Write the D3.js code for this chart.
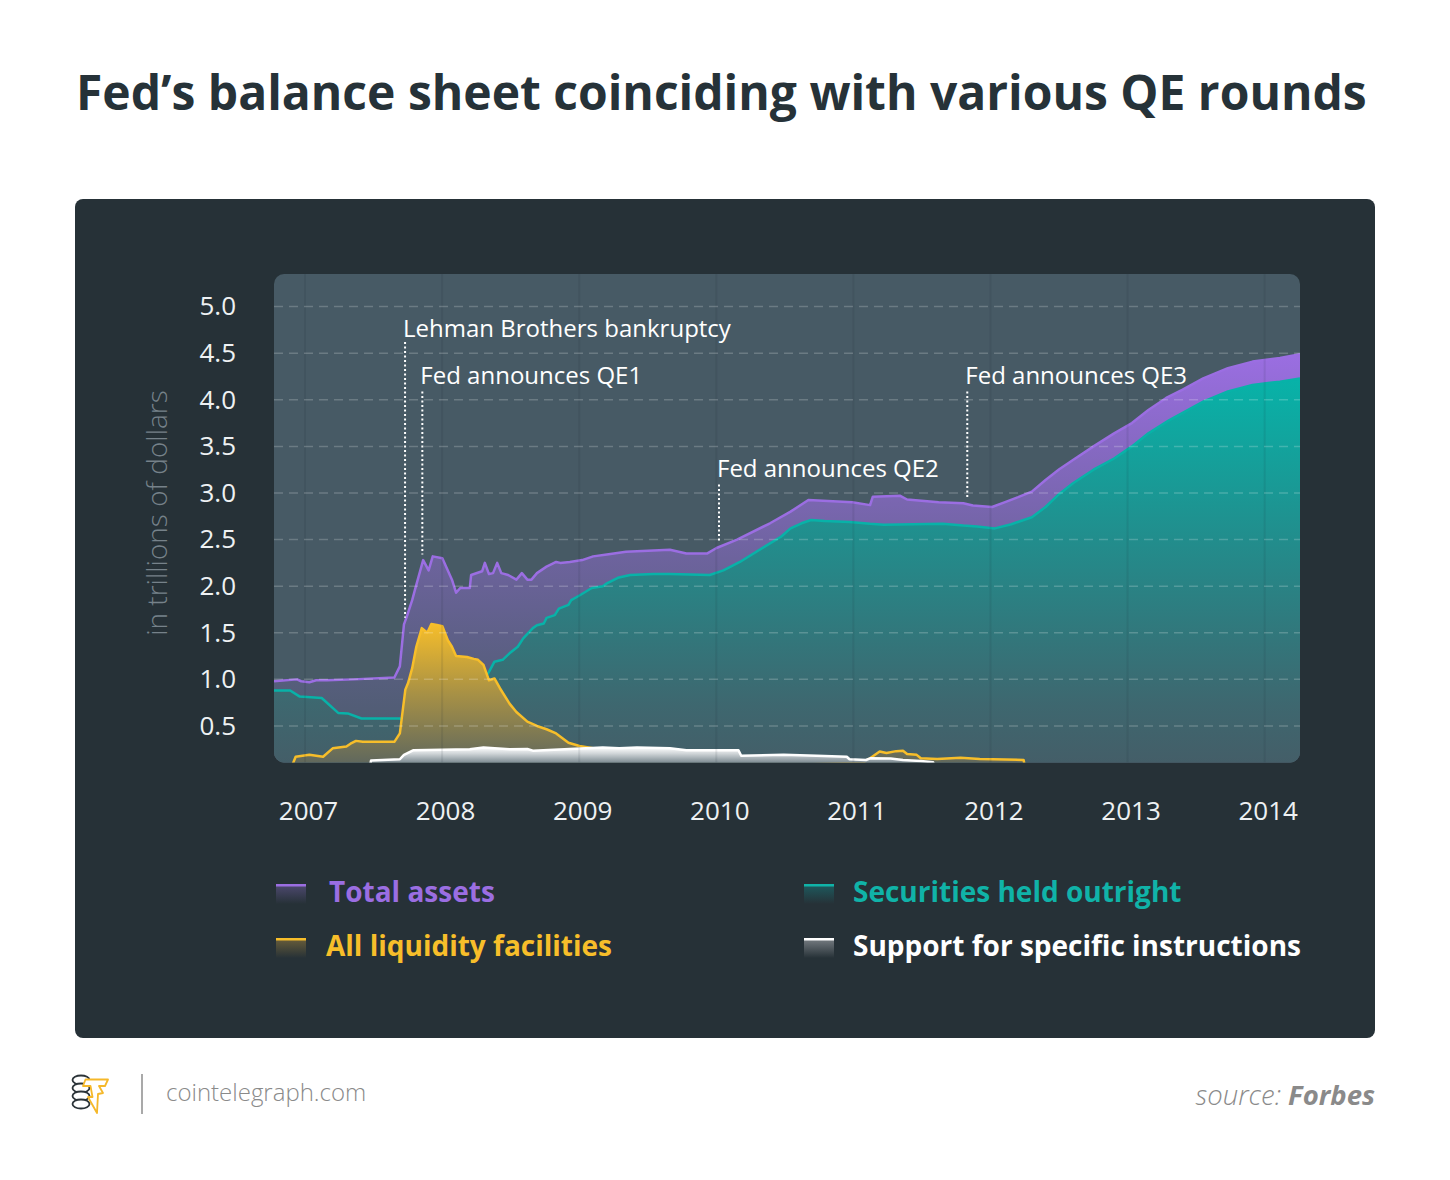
<!DOCTYPE html>
<html>
<head>
<meta charset="utf-8">
<script src="https://cdn.jsdelivr.net/npm/d3@7"></script>
<style>
  body { margin: 0; background: #fff; }
  text { font-family: "Open Sans", "Noto Sans", sans-serif; }
</style>
</head>
<body>
<div id="chart"></div>
<script>
// --- data (trillions of dollars, x in decimal years) ---
const yearTicks = [2007, 2008, 2009, 2010, 2011, 2012, 2013, 2014];
const valueTicks = [0.5, 1.0, 1.5, 2.0, 2.5, 3.0, 3.5, 4.0, 4.5, 5.0];

const totalAssets = [
  [2006.752, 0.98], [2006.92, 1.00], [2006.95, 0.98], [2007.01, 0.97], [2007.06, 0.99],
  [2007.14, 0.99], [2007.33, 1.00], [2007.63, 1.02], [2007.67, 1.14], [2007.70, 1.59],
  [2007.72, 1.67], [2007.76, 1.85], [2007.78, 1.96], [2007.84, 2.28], [2007.88, 2.17],
  [2007.91, 2.32], [2007.98, 2.30], [2008.05, 2.07], [2008.08, 1.93], [2008.11, 1.98],
  [2008.18, 1.98], [2008.19, 2.12], [2008.27, 2.16], [2008.29, 2.25], [2008.32, 2.13],
  [2008.35, 2.14], [2008.38, 2.25], [2008.41, 2.14], [2008.46, 2.12], [2008.52, 2.07],
  [2008.56, 2.14], [2008.60, 2.07], [2008.63, 2.07], [2008.67, 2.14], [2008.74, 2.21],
  [2008.81, 2.26], [2008.84, 2.25], [2008.91, 2.26], [2009.00, 2.28], [2009.08, 2.32],
  [2009.18, 2.34], [2009.32, 2.37], [2009.64, 2.39], [2009.76, 2.35], [2009.91, 2.35],
  [2009.98, 2.41], [2010.13, 2.50], [2010.37, 2.675], [2010.52, 2.80], [2010.65, 2.925],
  [2010.97, 2.90], [2011.10, 2.87], [2011.12, 2.96], [2011.32, 2.97], [2011.37, 2.93],
  [2011.60, 2.90], [2011.78, 2.89], [2011.85, 2.865], [2011.99, 2.85], [2012.08, 2.90],
  [2012.18, 2.955], [2012.28, 3.015], [2012.38, 3.14], [2012.48, 3.255], [2012.58, 3.355],
  [2012.73, 3.50], [2012.88, 3.64], [2013.01, 3.75], [2013.13, 3.89], [2013.26, 4.02],
  [2013.38, 4.11], [2013.53, 4.23], [2013.71, 4.34], [2013.89, 4.41], [2014.09, 4.45],
  [2014.236, 4.49]
];

const securities = [
  [2006.752, 0.88], [2006.87, 0.88], [2006.94, 0.815], [2007.10, 0.80], [2007.22, 0.64],
  [2007.29, 0.635], [2007.39, 0.58], [2007.67, 0.58], [2007.80, 0.50], [2008.10, 0.48],
  [2008.22, 0.70], [2008.28, 1.00], [2008.32, 1.08], [2008.36, 1.19], [2008.42, 1.21],
  [2008.47, 1.28], [2008.53, 1.35], [2008.57, 1.44], [2008.64, 1.55], [2008.67, 1.58],
  [2008.72, 1.60], [2008.74, 1.66], [2008.80, 1.69], [2008.83, 1.76], [2008.90, 1.80],
  [2008.92, 1.85], [2008.98, 1.90], [2009.07, 1.98], [2009.15, 2.00], [2009.18, 2.03],
  [2009.26, 2.09], [2009.35, 2.12], [2009.52, 2.13], [2009.64, 2.13], [2009.93, 2.12],
  [2010.03, 2.17], [2010.15, 2.26], [2010.37, 2.46], [2010.45, 2.53], [2010.52, 2.62],
  [2010.60, 2.675], [2010.67, 2.71], [2010.77, 2.70], [2010.95, 2.69], [2011.10, 2.67],
  [2011.20, 2.66], [2011.63, 2.67], [2011.78, 2.65], [2011.88, 2.64], [2012.01, 2.62],
  [2012.13, 2.665], [2012.28, 2.74], [2012.38, 2.85], [2012.48, 2.99], [2012.58, 3.105],
  [2012.73, 3.25], [2012.88, 3.37], [2013.01, 3.50], [2013.13, 3.64], [2013.28, 3.78],
  [2013.38, 3.86], [2013.53, 3.98], [2013.71, 4.09], [2013.89, 4.16], [2014.09, 4.195],
  [2014.236, 4.23]
];

const liquidity = [
  [2006.88, 0.06], [2006.91, 0.17], [2007.01, 0.19], [2007.11, 0.17], [2007.18, 0.26],
  [2007.28, 0.28], [2007.31, 0.31], [2007.35, 0.34], [2007.40, 0.33], [2007.63, 0.33],
  [2007.67, 0.42], [2007.71, 0.89], [2007.73, 0.96], [2007.76, 1.12], [2007.79, 1.35],
  [2007.83, 1.55], [2007.87, 1.50], [2007.90, 1.595], [2007.94, 1.585], [2007.98, 1.57],
  [2008.02, 1.42], [2008.05, 1.35], [2008.08, 1.25], [2008.16, 1.24], [2008.21, 1.22],
  [2008.24, 1.21], [2008.28, 1.155], [2008.32, 0.99], [2008.36, 1.01], [2008.40, 0.905],
  [2008.47, 0.74], [2008.52, 0.65], [2008.60, 0.546], [2008.67, 0.50], [2008.74, 0.465],
  [2008.81, 0.42], [2008.90, 0.32], [2008.98, 0.285], [2009.08, 0.26], [2009.20, 0.20],
  [2009.60, 0.17], [2010.30, 0.14], [2010.90, 0.12], [2011.06, 0.12], [2011.10, 0.153],
  [2011.17, 0.225], [2011.22, 0.21], [2011.29, 0.23], [2011.34, 0.235], [2011.37, 0.20],
  [2011.44, 0.19], [2011.47, 0.153], [2011.59, 0.146], [2011.76, 0.16], [2011.90, 0.146],
  [2012.22, 0.135], [2012.23, 0.06]
];

const support = [
  [2007.45, 0.06], [2007.46, 0.13], [2007.67, 0.143], [2007.70, 0.19], [2007.77, 0.24],
  [2008.18, 0.25], [2008.28, 0.27], [2008.47, 0.25], [2008.60, 0.253], [2008.64, 0.235],
  [2008.91, 0.253], [2009.15, 0.27], [2009.27, 0.26], [2009.40, 0.27], [2009.64, 0.26],
  [2009.76, 0.24], [2010.14, 0.24], [2010.16, 0.18], [2010.47, 0.19], [2010.71, 0.18],
  [2010.93, 0.17], [2010.95, 0.143], [2011.07, 0.135], [2011.10, 0.153], [2011.25, 0.15],
  [2011.34, 0.135], [2011.47, 0.124], [2011.56, 0.11], [2011.57, 0.06]
];

// annotations: year of the event, value at the label baseline, dotted line from/to
const events = [
  { label: 'Lehman Brothers bankruptcy', year: 2007.708, text: 4.678, top: 4.62, bottom: 1.66 },
  { label: 'Fed announces QE1', year: 2007.834, text: 4.17, top: 4.09, bottom: 2.34 },
  { label: 'Fed announces QE2', year: 2009.998, text: 3.17, top: 3.09, bottom: 2.48 },
  { label: 'Fed announces QE3', year: 2011.809, text: 4.17, top: 4.09, bottom: 2.94 }
];

const legendNames = ['Total assets', 'Securities held outright', 'All liquidity facilities', 'Support for specific instructions'];

// --- layout ---
const W = 1450, H = 1180;
const plot = { x: 274, y: 274, w: 1026, h: 488.5 };
const plotBg = '#475a65';
const panelBg = '#263137';

const svg = d3.select('#chart').append('svg')
    .attr('width', W)
    .attr('height', H);
const defs = svg.append('defs');

// title
svg.append('text')
    .attr('x', 76).attr('y', 110)
    .attr('font-size', 48).attr('font-weight', 700)
    .attr('fill', '#263238')
    .text('Fed’s balance sheet coinciding with various QE rounds');

// dark panel
svg.append('rect')
    .attr('x', 75).attr('y', 199).attr('width', 1300).attr('height', 839)
    .attr('rx', 8).attr('fill', panelBg);

const x = d3.scaleLinear().domain([2006.752, 2014.236]).range([0, plot.w]);
const y = d3.scaleLinear().domain([0.108, 5.35]).range([plot.h, 0]);

const g = svg.append('g').attr('transform', `translate(${plot.x},${plot.y})`);

g.append('rect')
    .attr('width', plot.w).attr('height', plot.h)
    .attr('rx', 10).attr('fill', plotBg);

defs.append('clipPath').attr('id', 'plotClip')
  .append('rect')
    .attr('width', plot.w).attr('height', plot.h).attr('rx', 10);

// gradients fade each colour into the plot background
function makeGradient(id, color, from, to, stops) {
    let mix = d3.interpolateRgb(plotBg, color);
    let grad = defs.append('linearGradient')
        .attr('id', id)
        .attr('gradientUnits', 'userSpaceOnUse')
        .attr('x1', 0).attr('x2', 0)
        .attr('y1', y(from)).attr('y2', y(to));
    stops.forEach(s => {
        grad.append('stop').attr('offset', s[0]).attr('stop-color', mix(s[1]));
    });
}

const series = [
    { id: 'total', data: totalAssets, color: '#9b6ee2', from: 4.5, to: 0.1,
      stops: [[0, 1], [0.5, 0.45], [0.8, 0.18], [1, 0.04]] },
    { id: 'sec', data: securities, color: '#08b2a8', from: 4.2, to: 0.1,
      stops: [[0, 1], [0.45, 0.55], [0.85, 0.15], [1, 0.05]] },
    { id: 'liq', data: liquidity, color: '#f7be2a', from: 1.6, to: 0.1,
      stops: [[0, 1], [0.5, 0.55], [1, 0.14]] },
    { id: 'sup', data: support, color: '#ffffff', from: 0.27, to: 0.108,
      stops: [[0, 1], [0.4, 0.75], [1, 0.3]] }
];

const area = d3.area()
    .x(d => x(d[0]))
    .y0(y(0))
    .y1(d => y(d[1]));
const line = d3.line()
    .x(d => x(d[0]))
    .y(d => y(d[1]));

const chart = g.append('g').attr('clip-path', 'url(#plotClip)');

series.forEach(s => {
    makeGradient('grad-' + s.id, s.color, s.from, s.to, s.stops);
    chart.append('path')
        .datum(s.data)
        .attr('fill', `url(#grad-${s.id})`)
        .attr('d', area);
    chart.append('path')
        .datum(s.data)
        .attr('fill', 'none')
        .attr('stroke', s.color)
        .attr('stroke-width', 2.5)
        .attr('stroke-linejoin', 'round')
        .attr('d', line);
});

// grid on top of the areas
const grid = g.append('g').attr('clip-path', 'url(#plotClip)');
grid.selectAll('.vgrid')
    .data(yearTicks)
    .join('line')
    .attr('class', 'vgrid')
    .attr('x1', d => x(d) - 3).attr('x2', d => x(d) - 3)
    .attr('y1', 0).attr('y2', plot.h)
    .attr('stroke', 'rgba(20,35,45,0.09)')
    .attr('stroke-width', 2);
grid.selectAll('.hgrid')
    .data(valueTicks)
    .join('line')
    .attr('class', 'hgrid')
    .attr('x1', 0).attr('x2', plot.w)
    .attr('y1', d => y(d)).attr('y2', d => y(d))
    .attr('stroke', 'rgba(255,255,255,0.2)')
    .attr('stroke-width', 1.5)
    .attr('stroke-dasharray', '9 6');

// axes
const yAxis = g.append('g')
    .call(d3.axisLeft(y).tickValues(valueTicks).tickFormat(d3.format('.1f')).tickSize(0).tickPadding(38));
yAxis.select('.domain').remove();
yAxis.selectAll('text')
    .attr('font-size', 26)
    .attr('fill', '#eef1f3')
    .style('font-family', '"Open Sans", sans-serif');

const xAxis = g.append('g')
    .attr('transform', `translate(0,${plot.h})`)
    .call(d3.axisBottom(x).tickValues(yearTicks).tickFormat(d3.format('d')).tickSize(0).tickPadding(39));
xAxis.select('.domain').remove();
xAxis.selectAll('text')
    .attr('font-size', 26)
    .attr('fill', '#eef1f3')
    .style('font-family', '"Open Sans", sans-serif');

svg.append('text')
    .attr('transform', 'translate(167,513) rotate(-90)')
    .attr('text-anchor', 'middle')
    .attr('font-size', 28)
    .attr('font-weight', 300)
    .attr('fill', '#76828a')
    .text('in trillions of dollars');

// event annotations
const ev = g.append('g');
ev.selectAll('line')
    .data(events)
    .join('line')
    .attr('x1', d => x(d.year)).attr('x2', d => x(d.year))
    .attr('y1', d => y(d.top)).attr('y2', d => y(d.bottom))
    .attr('stroke', '#fff')
    .attr('stroke-width', 2)
    .attr('stroke-dasharray', '2 2.5');
ev.selectAll('text')
    .data(events)
    .join('text')
    .attr('x', d => x(d.year) - 2)
    .attr('y', d => y(d.text))
    .attr('font-size', 24)
    .attr('fill', '#fff')
    .text(d => d.label);

// legend
const legendColors = ['#9b6ee2', '#10b3a8', '#f7be2a', '#ffffff'];
const legendSwatch = ['#4f4a72', '#1d5c60', '#6b5f3a', '#7a8085'];
const legend = svg.append('g');
legendNames.forEach((name, i) => {
    let col = i % 2, row = Math.floor(i / 2);
    let lx = col ? 804 : 276, ly = row ? 938 : 884;
    let gid = 'leg' + i;
    let lg = defs.append('linearGradient').attr('id', gid)
        .attr('x1', 0).attr('x2', 0).attr('y1', 0).attr('y2', 1);
    lg.append('stop').attr('offset', 0).attr('stop-color', legendSwatch[i]);
    lg.append('stop').attr('offset', 1).attr('stop-color', panelBg);
    legend.append('rect')
        .attr('x', lx).attr('y', ly).attr('width', 30).attr('height', 20)
        .attr('fill', `url(#${gid})`);
    legend.append('rect')
        .attr('x', lx).attr('y', ly).attr('width', 30).attr('height', 2.5)
        .attr('fill', legendColors[i]);
    legend.append('text')
        .attr('x', col ? 853 : (row ? 326 : 329))
        .attr('y', ly + 18)
        .attr('font-size', 28)
        .attr('font-weight', 700)
        .attr('fill', legendColors[i])
        .text(name);
});

// footer logo: coin stack with a lightning "T"
const logo = svg.append('g');
[1080, 1088, 1096, 1104].forEach((cy, i) => {
    logo.append('ellipse')
        .attr('cx', 81).attr('cy', cy).attr('rx', 8.5).attr('ry', 4.5)
        .attr('fill', '#fff')
        .attr('stroke', '#2b3338')
        .attr('stroke-width', 1.8);
});
logo.append('path')
    .attr('d', 'M85.5,1079.5 L108,1079.5 L105,1086 L99,1086 L103,1093 L98,1094 L97,1113 L88,1097 L92.5,1097 L90.5,1086 L83,1086 Z')
    .attr('fill', '#fff')
    .attr('stroke', '#f5b82a')
    .attr('stroke-width', 1.8)
    .attr('stroke-linejoin', 'round');

svg.append('line')
    .attr('x1', 142).attr('x2', 142).attr('y1', 1074).attr('y2', 1114)
    .attr('stroke', '#8c8c8c').attr('stroke-width', 1.5);

svg.append('text')
    .attr('x', 166).attr('y', 1101)
    .attr('font-size', 24).attr('font-weight', 300)
    .attr('fill', '#8a8a8a')
    .text('cointelegraph.com');

const src = svg.append('text')
    .attr('x', 1375).attr('y', 1105)
    .attr('text-anchor', 'end')
    .attr('font-size', 27.5)
    .attr('font-style', 'italic')
    .attr('fill', '#8a8a8a');
src.append('tspan').attr('font-weight', 300).text('source: ');
src.append('tspan').attr('font-weight', 700).text('Forbes');
</script>
</body>
</html>
